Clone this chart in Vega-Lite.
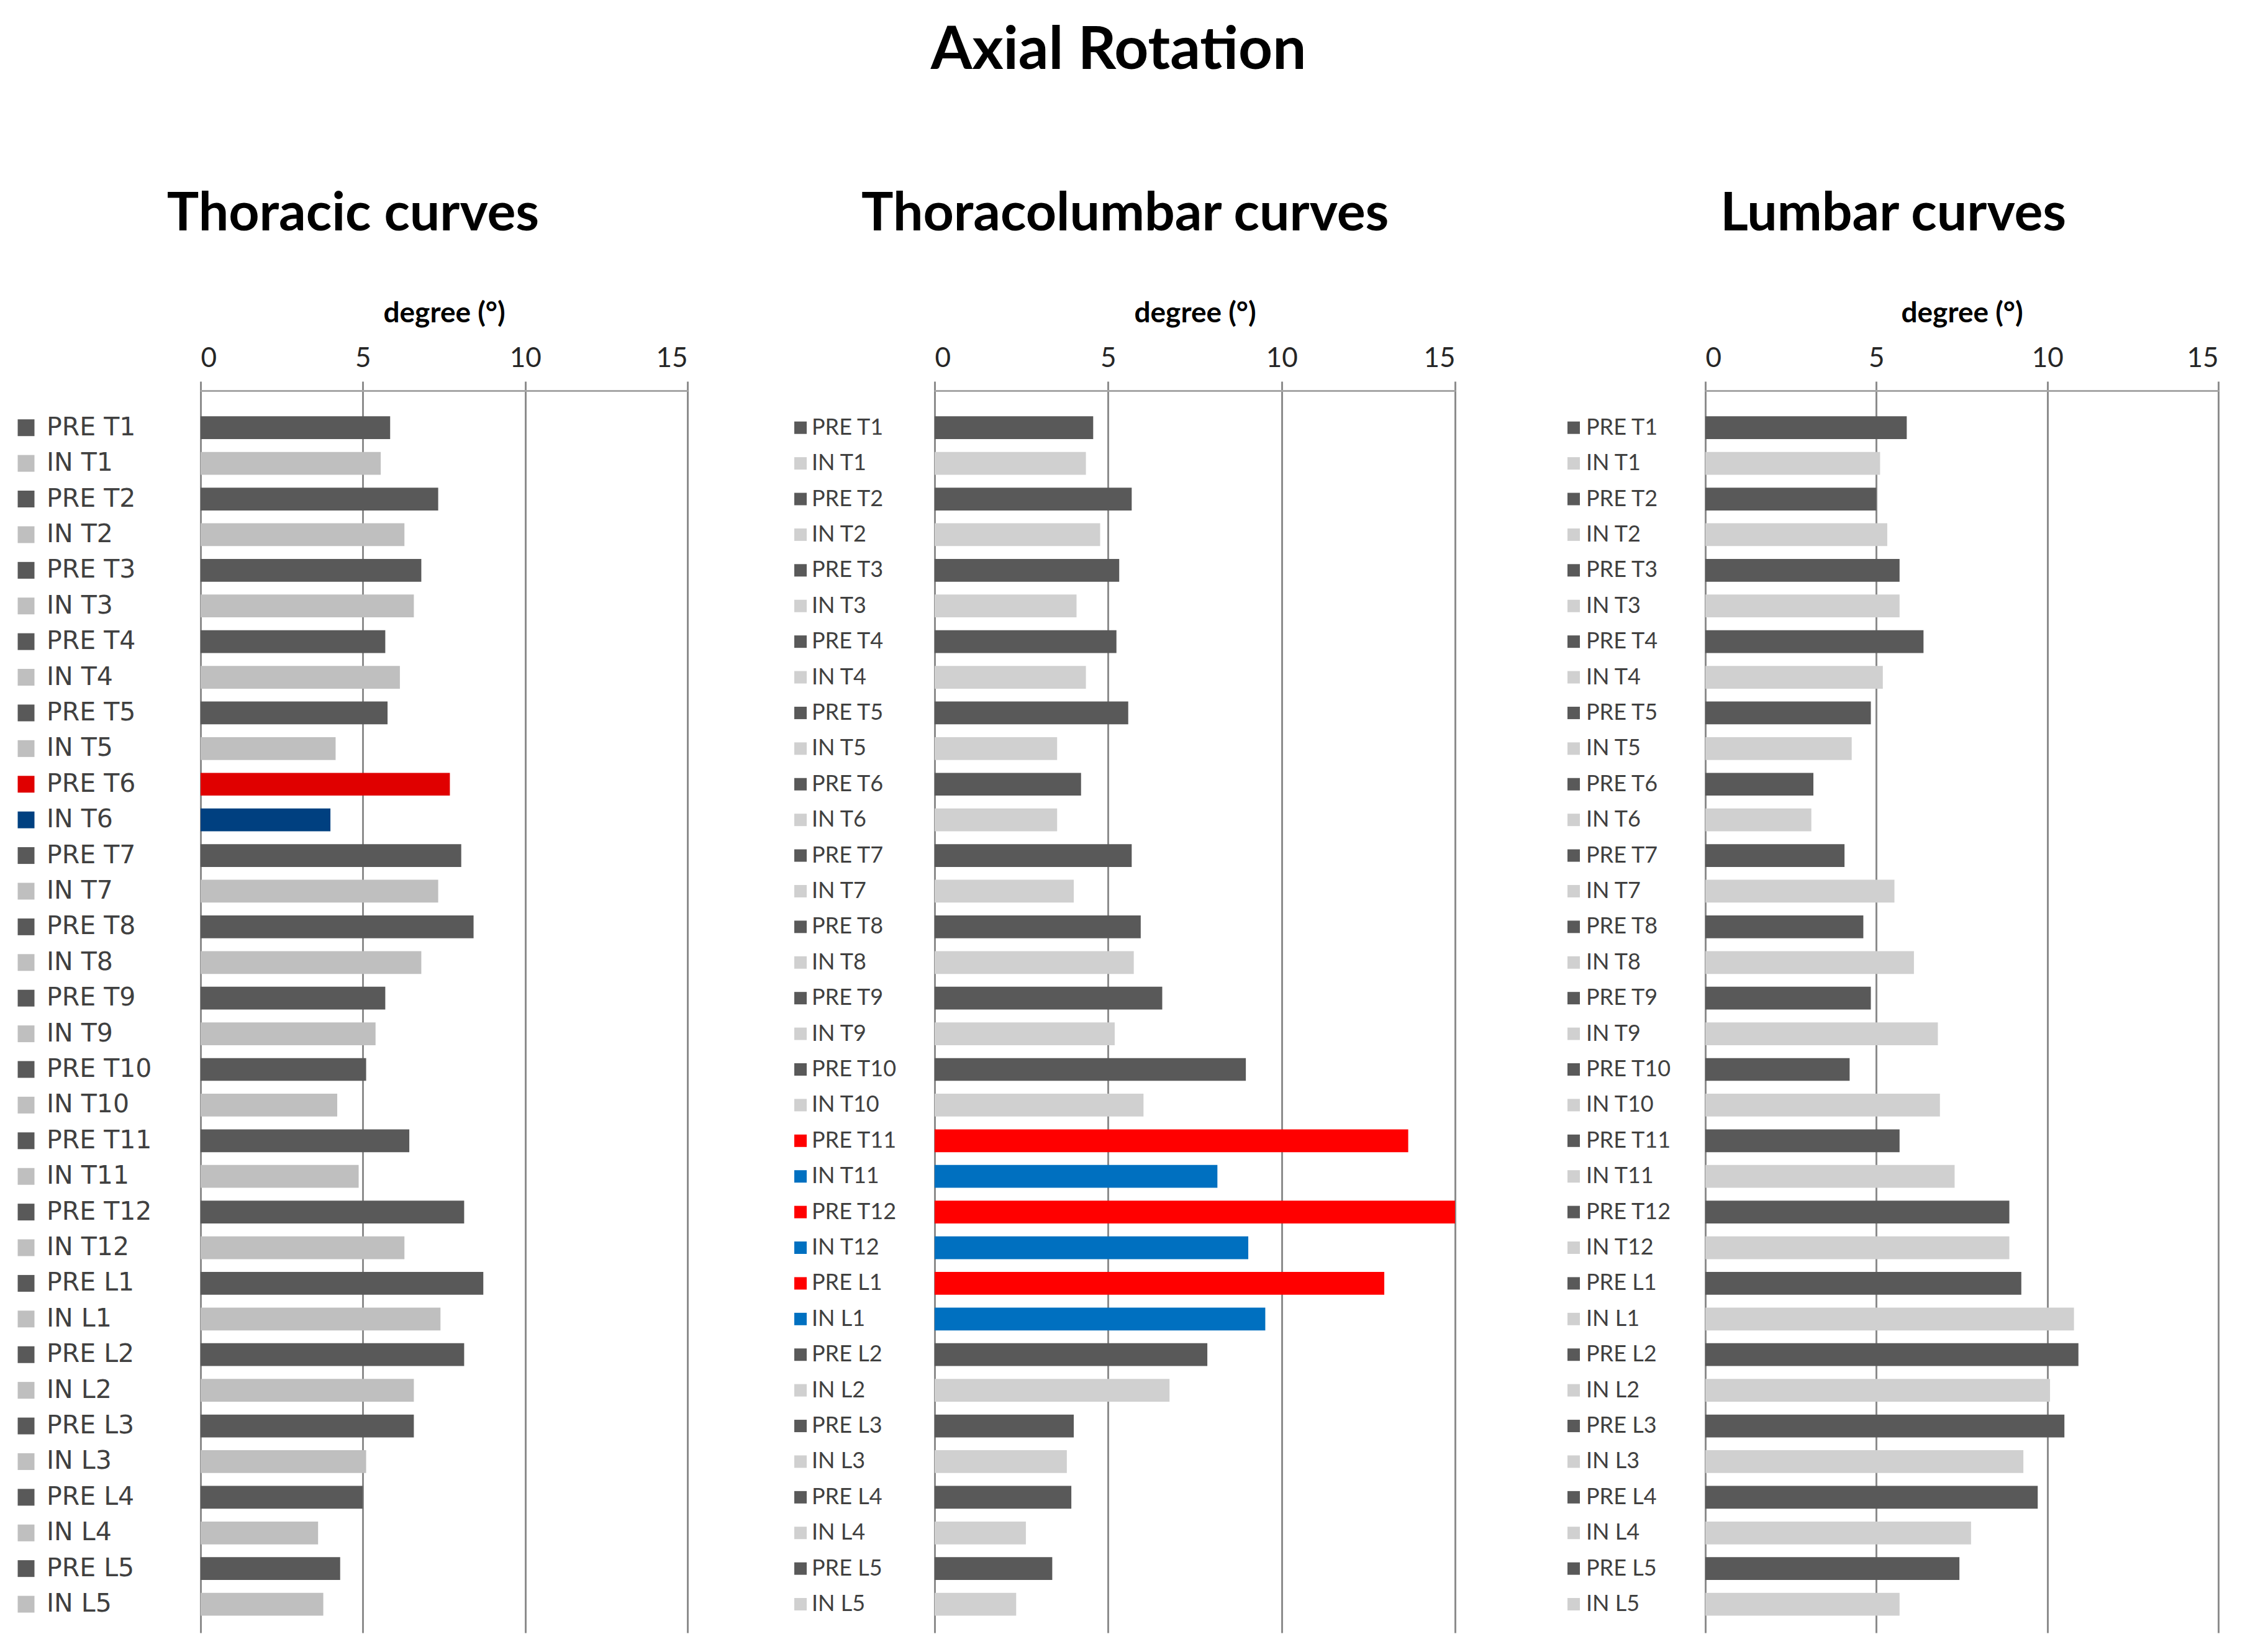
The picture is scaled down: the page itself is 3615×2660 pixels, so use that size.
{
  "$schema": "https://vega.github.io/schema/vega-lite/v6.json",
  "background": "white",
  "padding": {"left": 28, "top": 34, "right": 5, "bottom": 5},
  "title": {"text": "Axial Rotation", "font": "Lato", "fontSize": 96, "fontWeight": "bold", "color": "#000000", "anchor": "middle", "offset": 171},
  "config": {
    "view": {"stroke": null},
    "font": "Lato",
    "title": {"font": "Lato", "fontWeight": "bold", "color": "#000000"},
    "axis": {
      "labelFont": "Lato", "labelFontSize": 44, "labelColor": "#262626",
      "titleFont": "Lato", "titleFontSize": 46, "titleFontWeight": "bold", "titleColor": "#000000",
      "domainColor": "#A6A6A6", "domainWidth": 3,
      "tickColor": "#8C8C8C", "tickWidth": 3, "tickSize": 15,
      "gridColor": "#8C8C8C", "gridWidth": 3,
      "labelPadding": 15, "titlePadding": 27
    }
  },
  "datasets": {
    "thoracic": [
      {"label": "PRE T1", "v": 5.84, "g": "PRE"}, {"label": "IN T1", "v": 5.55, "g": "IN"},
      {"label": "PRE T2", "v": 7.32, "g": "PRE"}, {"label": "IN T2", "v": 6.28, "g": "IN"},
      {"label": "PRE T3", "v": 6.80, "g": "PRE"}, {"label": "IN T3", "v": 6.57, "g": "IN"},
      {"label": "PRE T4", "v": 5.69, "g": "PRE"}, {"label": "IN T4", "v": 6.14, "g": "IN"},
      {"label": "PRE T5", "v": 5.76, "g": "PRE"}, {"label": "IN T5", "v": 4.16, "g": "IN"},
      {"label": "PRE T6", "v": 7.68, "g": "PRE apex"}, {"label": "IN T6", "v": 4.00, "g": "IN apex"},
      {"label": "PRE T7", "v": 8.03, "g": "PRE"}, {"label": "IN T7", "v": 7.32, "g": "IN"},
      {"label": "PRE T8", "v": 8.41, "g": "PRE"}, {"label": "IN T8", "v": 6.80, "g": "IN"},
      {"label": "PRE T9", "v": 5.69, "g": "PRE"}, {"label": "IN T9", "v": 5.39, "g": "IN"},
      {"label": "PRE T10", "v": 5.10, "g": "PRE"}, {"label": "IN T10", "v": 4.21, "g": "IN"},
      {"label": "PRE T11", "v": 6.43, "g": "PRE"}, {"label": "IN T11", "v": 4.87, "g": "IN"},
      {"label": "PRE T12", "v": 8.12, "g": "PRE"}, {"label": "IN T12", "v": 6.28, "g": "IN"},
      {"label": "PRE L1", "v": 8.71, "g": "PRE"}, {"label": "IN L1", "v": 7.39, "g": "IN"},
      {"label": "PRE L2", "v": 8.12, "g": "PRE"}, {"label": "IN L2", "v": 6.57, "g": "IN"},
      {"label": "PRE L3", "v": 6.57, "g": "PRE"}, {"label": "IN L3", "v": 5.10, "g": "IN"},
      {"label": "PRE L4", "v": 5.00, "g": "PRE"}, {"label": "IN L4", "v": 3.62, "g": "IN"},
      {"label": "PRE L5", "v": 4.30, "g": "PRE"}, {"label": "IN L5", "v": 3.78, "g": "IN"}
    ],
    "thoracolumbar": [
      {"label": "PRE T1", "v": 4.57, "g": "PRE"}, {"label": "IN T1", "v": 4.36, "g": "IN"},
      {"label": "PRE T2", "v": 5.68, "g": "PRE"}, {"label": "IN T2", "v": 4.77, "g": "IN"},
      {"label": "PRE T3", "v": 5.32, "g": "PRE"}, {"label": "IN T3", "v": 4.09, "g": "IN"},
      {"label": "PRE T4", "v": 5.24, "g": "PRE"}, {"label": "IN T4", "v": 4.36, "g": "IN"},
      {"label": "PRE T5", "v": 5.58, "g": "PRE"}, {"label": "IN T5", "v": 3.53, "g": "IN"},
      {"label": "PRE T6", "v": 4.22, "g": "PRE"}, {"label": "IN T6", "v": 3.53, "g": "IN"},
      {"label": "PRE T7", "v": 5.68, "g": "PRE"}, {"label": "IN T7", "v": 4.01, "g": "IN"},
      {"label": "PRE T8", "v": 5.94, "g": "PRE"}, {"label": "IN T8", "v": 5.74, "g": "IN"},
      {"label": "PRE T9", "v": 6.56, "g": "PRE"}, {"label": "IN T9", "v": 5.19, "g": "IN"},
      {"label": "PRE T10", "v": 8.97, "g": "PRE"}, {"label": "IN T10", "v": 6.02, "g": "IN"},
      {"label": "PRE T11", "v": 13.65, "g": "PRE apex"}, {"label": "IN T11", "v": 8.15, "g": "IN apex"},
      {"label": "PRE T12", "v": 15.0, "g": "PRE apex"}, {"label": "IN T12", "v": 9.04, "g": "IN apex"},
      {"label": "PRE L1", "v": 12.96, "g": "PRE apex"}, {"label": "IN L1", "v": 9.53, "g": "IN apex"},
      {"label": "PRE L2", "v": 7.86, "g": "PRE"}, {"label": "IN L2", "v": 6.77, "g": "IN"},
      {"label": "PRE L3", "v": 4.01, "g": "PRE"}, {"label": "IN L3", "v": 3.81, "g": "IN"},
      {"label": "PRE L4", "v": 3.94, "g": "PRE"}, {"label": "IN L4", "v": 2.63, "g": "IN"},
      {"label": "PRE L5", "v": 3.39, "g": "PRE"}, {"label": "IN L5", "v": 2.35, "g": "IN"}
    ],
    "lumbar": [
      {"label": "PRE T1", "v": 5.89, "g": "PRE"}, {"label": "IN T1", "v": 5.11, "g": "IN"},
      {"label": "PRE T2", "v": 5.00, "g": "PRE"}, {"label": "IN T2", "v": 5.32, "g": "IN"},
      {"label": "PRE T3", "v": 5.68, "g": "PRE"}, {"label": "IN T3", "v": 5.68, "g": "IN"},
      {"label": "PRE T4", "v": 6.38, "g": "PRE"}, {"label": "IN T4", "v": 5.19, "g": "IN"},
      {"label": "PRE T5", "v": 4.84, "g": "PRE"}, {"label": "IN T5", "v": 4.28, "g": "IN"},
      {"label": "PRE T6", "v": 3.16, "g": "PRE"}, {"label": "IN T6", "v": 3.10, "g": "IN"},
      {"label": "PRE T7", "v": 4.07, "g": "PRE"}, {"label": "IN T7", "v": 5.53, "g": "IN"},
      {"label": "PRE T8", "v": 4.62, "g": "PRE"}, {"label": "IN T8", "v": 6.10, "g": "IN"},
      {"label": "PRE T9", "v": 4.84, "g": "PRE"}, {"label": "IN T9", "v": 6.80, "g": "IN"},
      {"label": "PRE T10", "v": 4.22, "g": "PRE"}, {"label": "IN T10", "v": 6.86, "g": "IN"},
      {"label": "PRE T11", "v": 5.68, "g": "PRE"}, {"label": "IN T11", "v": 7.29, "g": "IN"},
      {"label": "PRE T12", "v": 8.89, "g": "PRE"}, {"label": "IN T12", "v": 8.89, "g": "IN"},
      {"label": "PRE L1", "v": 9.24, "g": "PRE"}, {"label": "IN L1", "v": 10.78, "g": "IN"},
      {"label": "PRE L2", "v": 10.91, "g": "PRE"}, {"label": "IN L2", "v": 10.08, "g": "IN"},
      {"label": "PRE L3", "v": 10.50, "g": "PRE"}, {"label": "IN L3", "v": 9.30, "g": "IN"},
      {"label": "PRE L4", "v": 9.72, "g": "PRE"}, {"label": "IN L4", "v": 7.77, "g": "IN"},
      {"label": "PRE L5", "v": 7.43, "g": "PRE"}, {"label": "IN L5", "v": 5.68, "g": "IN"}
    ]
  },
  "spacing": 170,
  "resolve": {"scale": {"color": "independent"}},
  "hconcat": [
    {
      "title": {"text": "Thoracic curves", "fontSize": 86, "offset": 92, "anchor": "middle"},
      "spacing": 0,
      "bounds": "flush",
      "hconcat": [
        {
          "width": 281, "height": 2000,
          "data": {"name": "thoracic"},
          "encoding": {
            "y": {"field": "label", "type": "nominal", "sort": null, "scale": {"type": "band", "paddingInner": 0.36, "paddingOuter": 0.6, "align": 0.6}, "axis": null},
            "x": {"datum": 0, "type": "quantitative", "scale": {"domain": [0, 1]}, "axis": null}
          },
          "layer": [
            {"mark": {"type": "point", "shape": "square", "filled": true, "opacity": 1, "size": 729, "strokeWidth": 0},
             "encoding": {"color": {"field": "g", "type": "nominal", "scale": {"domain": ["PRE", "IN", "PRE apex", "IN apex"], "range": ["#595959", "#BFBFBF", "#E00000", "#004080"]}, "legend": null}}},
            {"mark": {"type": "text", "align": "left", "baseline": "middle", "dx": 33, "font": "DejaVu Sans", "fontSize": 41, "color": "#404040"},
             "encoding": {"text": {"field": "label"}}}
          ]
        },
        {
          "width": 784, "height": 2000,
          "data": {"name": "thoracic"},
          "mark": {"type": "bar"},
          "encoding": {
            "y": {"field": "label", "type": "nominal", "sort": null, "scale": {"type": "band", "paddingInner": 0.36, "paddingOuter": 0.6, "align": 0.6}, "axis": null},
            "x": {"field": "v", "type": "quantitative", "scale": {"domain": [0, 15], "nice": false}, "axis": {"orient": "top", "title": "degree (°)", "values": [0, 5, 10, 15], "grid": true}},
            "color": {"field": "g", "type": "nominal", "scale": {"domain": ["PRE", "IN", "PRE apex", "IN apex"], "range": ["#595959", "#BFBFBF", "#E00000", "#004080"]}, "legend": null}
          }
        }
      ]
    },
    {
      "spacing": 179,
      "resolve": {"scale": {"color": "independent"}},
      "hconcat": [
        {
          "title": {"text": "Thoracolumbar curves", "fontSize": 86, "offset": 92, "anchor": "middle"},
          "spacing": 0,
          "bounds": "flush",
          "hconcat": [
            {
              "width": 216, "height": 2000,
              "data": {"name": "thoracolumbar"},
              "encoding": {
                "y": {"field": "label", "type": "nominal", "sort": null, "scale": {"type": "band", "paddingInner": 0.36, "paddingOuter": 0.6, "align": 0.6}, "axis": null},
                "x": {"datum": 0, "type": "quantitative", "scale": {"domain": [0, 1]}, "axis": null}
              },
              "layer": [
                {"mark": {"type": "point", "shape": "square", "filled": true, "opacity": 1, "size": 400, "strokeWidth": 0},
                 "encoding": {"color": {"field": "g", "type": "nominal", "scale": {"domain": ["PRE", "IN", "PRE apex", "IN apex"], "range": ["#595959", "#D0D0D0", "#FF0000", "#0070C0"]}, "legend": null}}},
                {"mark": {"type": "text", "align": "left", "baseline": "middle", "dx": 18, "font": "Lato", "fontSize": 36, "color": "#404040"},
                 "encoding": {"text": {"field": "label"}}}
              ]
            },
            {
              "width": 838, "height": 2000,
              "data": {"name": "thoracolumbar"},
              "mark": {"type": "bar"},
              "encoding": {
                "y": {"field": "label", "type": "nominal", "sort": null, "scale": {"type": "band", "paddingInner": 0.36, "paddingOuter": 0.6, "align": 0.6}, "axis": null},
                "x": {"field": "v", "type": "quantitative", "scale": {"domain": [0, 15], "nice": false}, "axis": {"orient": "top", "title": "degree (°)", "values": [0, 5, 10, 15], "grid": true}},
                "color": {"field": "g", "type": "nominal", "scale": {"domain": ["PRE", "IN", "PRE apex", "IN apex"], "range": ["#595959", "#D0D0D0", "#FF0000", "#0070C0"]}, "legend": null}
              }
            }
          ]
        },
        {
          "title": {"text": "Lumbar curves", "fontSize": 86, "offset": 92, "anchor": "middle"},
          "spacing": 0,
          "bounds": "flush",
          "hconcat": [
            {
              "width": 212, "height": 2000,
              "data": {"name": "lumbar"},
              "encoding": {
                "y": {"field": "label", "type": "nominal", "sort": null, "scale": {"type": "band", "paddingInner": 0.36, "paddingOuter": 0.6, "align": 0.6}, "axis": null},
                "x": {"datum": 0, "type": "quantitative", "scale": {"domain": [0, 1]}, "axis": null}
              },
              "layer": [
                {"mark": {"type": "point", "shape": "square", "filled": true, "opacity": 1, "size": 400, "strokeWidth": 0},
                 "encoding": {"color": {"field": "g", "type": "nominal", "scale": {"domain": ["PRE", "IN"], "range": ["#595959", "#D0D0D0"]}, "legend": null}}},
                {"mark": {"type": "text", "align": "left", "baseline": "middle", "dx": 20, "font": "Lato", "fontSize": 36, "color": "#404040"},
                 "encoding": {"text": {"field": "label"}}}
              ]
            },
            {
              "width": 826, "height": 2000,
              "data": {"name": "lumbar"},
              "mark": {"type": "bar"},
              "encoding": {
                "y": {"field": "label", "type": "nominal", "sort": null, "scale": {"type": "band", "paddingInner": 0.36, "paddingOuter": 0.6, "align": 0.6}, "axis": null},
                "x": {"field": "v", "type": "quantitative", "scale": {"domain": [0, 15], "nice": false}, "axis": {"orient": "top", "title": "degree (°)", "values": [0, 5, 10, 15], "grid": true}},
                "color": {"field": "g", "type": "nominal", "scale": {"domain": ["PRE", "IN"], "range": ["#595959", "#D0D0D0"]}, "legend": null}
              }
            }
          ]
        }
      ]
    }
  ]
}
